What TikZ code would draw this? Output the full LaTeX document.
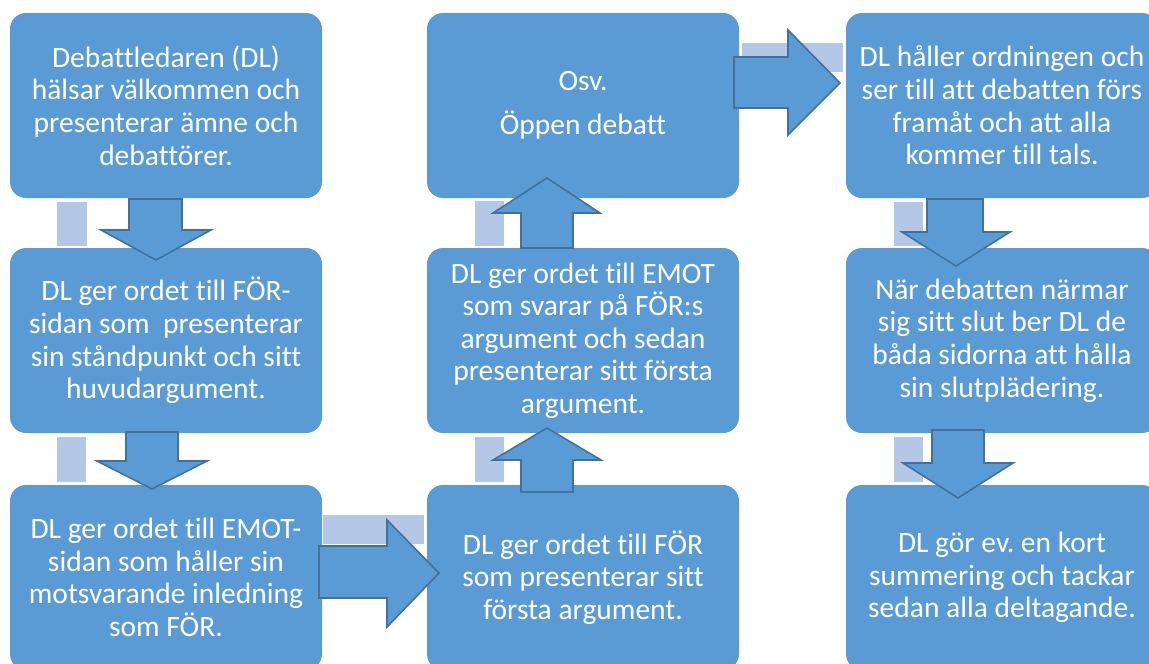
\documentclass[tikz,border=0pt]{standalone}
\usepackage{fontspec}
\setmainfont[Ligatures=NoCommon]{Carlito}
\frenchspacing
\usetikzlibrary{calc}
\definecolor{boxblue}{HTML}{5B9BD5}
\definecolor{arrowline}{HTML}{41719C}
\definecolor{lightblue}{HTML}{B4C7E7}
\begin{document}
\begin{tikzpicture}[x=1pt,y=-1pt,
  stepbox/.style={fill=boxblue, rounded corners=16pt, text=white, align=center,
    font=\fontsize{29.5}{32.6}\selectfont, inner sep=0pt,
    minimum width=312pt, minimum height=185pt},
  blk/.style={fill=boxblue, draw=arrowline, line width=1.6pt, line join=miter},
  shadebox/.style={fill=lightblue}]
\useasboundingbox (0,0) rectangle (1149,664);
\clip (0,0) rectangle (1149,664);
% boxes
\node[stepbox] (b1) at (166,105.5) {Debattledaren (DL)\\hälsar välkommen och\\presenterar ämne och\\debattörer.};
\node[stepbox] (b2) at (166,340.5) {DL ger ordet till FÖR-\\sidan som~ presenterar\\sin ståndpunkt och sitt\\huvudargument.};
\node[stepbox] (b3) at (166,577.5) {DL ger ordet till EMOT-\\sidan som håller sin\\motsvarande inledning\\som FÖR.};
\node[stepbox] (c3) at (583,577.5) {DL ger ordet till FÖR\\som presenterar sitt\\första argument.};
\node[stepbox] (c2) at (583,340.5) {DL ger ordet till EMOT\\som svarar på FÖR:s\\argument och sedan\\presenterar sitt första\\argument.};
\node[stepbox] (c1) at (583,105.5) {Osv.\\[12pt]Öppen debatt};
\node[stepbox] (d1) at (1002,105.5) {DL håller ordningen och\\ser till att debatten förs\\framåt och att alla\\kommer till tals.};
\node[stepbox] (d2) at (1002,340.5) {När debatten närmar\\sig sitt slut ber DL de\\båda sidorna att hålla\\sin slutplädering.};
\node[stepbox] (d3) at (1002,577.5) {DL gör ev. en kort\\summering och tackar\\sedan alla deltagande.};
% light rectangles
\fill[shadebox] (57,202) rectangle (87,246);
\fill[shadebox] (57,437) rectangle (86,482);
\fill[shadebox] (323,515) rectangle (424,544);
\fill[shadebox] (475,437) rectangle (504,482);
\fill[shadebox] (475,201) rectangle (504,246);
\fill[shadebox] (742,43) rectangle (843,72);
\fill[shadebox] (894,202) rectangle (923,246);
\fill[shadebox] (894,437) rectangle (923,482);
% block arrows
% b1 -> b2
\draw[blk] (129,199) -- (182,199) -- (182,230) -- (211,230) -- (156,260) -- (101,230) -- (129,230) -- cycle;
% b2 -> b3
\draw[blk] (126,432) -- (178,432) -- (178,461) -- (207,461) -- (152,489) -- (97,461) -- (126,461) -- cycle;
% b3 -> c3
\draw[blk] (319,546) -- (387,546) -- (387,520) -- (439,573) -- (387,627) -- (387,598) -- (319,598) -- cycle;
% c3 -> c2
\draw[blk] (521,492) -- (521,460) -- (493,460) -- (547,428) -- (601,460) -- (573,460) -- (573,492) -- cycle;
% c2 -> c1
\draw[blk] (521,248) -- (521,213) -- (493,213) -- (547,178) -- (600,213) -- (573,213) -- (573,248) -- cycle;
% c1 -> d1
\draw[blk] (734,57) -- (788,57) -- (788,30) -- (840,83) -- (788,135) -- (788,108) -- (734,108) -- cycle;
% d1 -> d2
\draw[blk] (927,199) -- (983,199) -- (983,232) -- (1010,232) -- (956,266) -- (902,232) -- (927,232) -- cycle;
% d2 -> d3
\draw[blk] (932,430) -- (984,430) -- (984,463) -- (1013,463) -- (958,498) -- (903,463) -- (932,463) -- cycle;
\end{tikzpicture}
\end{document}
